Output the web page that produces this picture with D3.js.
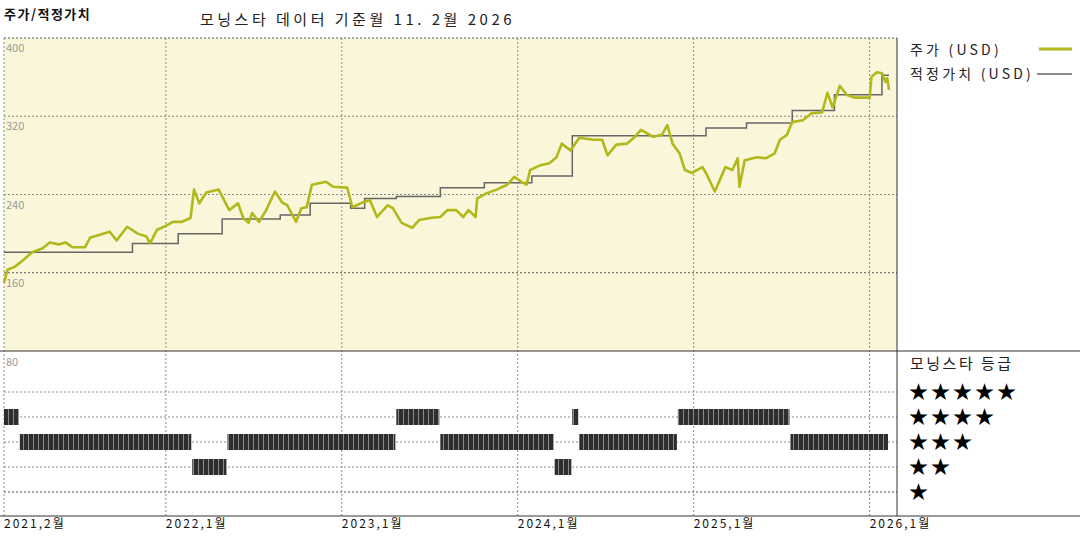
<!DOCTYPE html>
<html><head><meta charset="utf-8">
<script src="https://cdn.jsdelivr.net/npm/d3@7"></script>
<style>body{margin:0;background:#fff}svg{display:block}text{font-family:"Noto Sans CJK KR","Noto Sans",sans-serif}</style>
</head><body><svg id="c" width="1080" height="540"></svg>
<script>
const priceYears=[2021.08,2021.10,2021.14,2021.19,2021.24,2021.30,2021.34,2021.39,2021.43,2021.47,2021.54,2021.57,2021.63,2021.68,2021.72,2021.78,2021.84,2021.89,2021.91,2021.95,2021.99,2022.04,2022.09,2022.14,2022.16,2022.19,2022.23,2022.30,2022.32,2022.36,2022.41,2022.44,2022.47,2022.49,2022.53,2022.57,2022.62,2022.66,2022.69,2022.74,2022.77,2022.80,2022.83,2022.91,2022.95,2023.03,2023.06,2023.12,2023.16,2023.20,2023.26,2023.29,2023.34,2023.40,2023.44,2023.50,2023.56,2023.60,2023.65,2023.69,2023.72,2023.76,2023.77,2023.82,2023.88,2023.94,2023.98,2024.02,2024.05,2024.07,2024.13,2024.18,2024.22,2024.25,2024.30,2024.35,2024.43,2024.48,2024.51,2024.56,2024.62,2024.66,2024.70,2024.77,2024.82,2024.85,2024.88,2024.92,2024.95,2024.99,2025.05,2025.07,2025.12,2025.18,2025.22,2025.25,2025.26,2025.29,2025.36,2025.41,2025.46,2025.49,2025.53,2025.56,2025.62,2025.67,2025.73,2025.76,2025.79,2025.83,2025.87,2025.91,2025.96,2026.00,2026.01,2026.04,2026.07,2026.09,2026.10,2026.11];
const priceValues=[150,163,166,173,181,185,191,189,191,186,186,196,199,202,193,207,200,197,190,204,207,212,212,216,245,231,242,245,238,224,231,216,211,221,212,224,243,232,229,212,226,227,250,253,248,247,227,232,234,217,229,226,211,206,214,216,217,224,224,217,224,217,236,241,245,250,258,253,250,265,270,272,278,292,285,298,296,296,280,291,292,298,306,299,301,311,292,282,265,262,268,262,243,268,265,277,248,275,278,277,282,296,301,314,316,323,324,344,329,351,342,339,339,339,360,365,364,355,359,347];
const fairYears=[2021.08,2021.81,2022.07,2022.32,2022.65,2022.82,2023.05,2023.13,2023.31,2023.56,2023.81,2024.08,2024.31,2025.07,2025.30,2025.56,2025.80,2026.07,2026.11];
const fairValues=[181,190,200,215,219,231,226,236,238,247,252,259,300,308,313,326,342,362,362];
const ratingStart=[2021.08,2021.17,2022.15,2022.35,2023.31,2023.56,2024.21,2024.31,2024.35,2024.91,2025.55];
const ratingEnd=[2021.17,2022.15,2022.35,2023.31,2023.56,2024.21,2024.31,2024.35,2024.91,2025.55,2026.11];
const ratingStars=[4,3,2,3,4,3,2,4,3,4,3];
const yTicks=[400,320,240,160];
const xTickYears=[2021.08,2022,2023,2024,2025,2026];
const xTickLabels=["2021,2월","2022,1월","2023,1월","2024,1월","2025,1월","2026,1월"];
const starLabels=["★★★★★","★★★★","★★★","★★","★"];

const svg=d3.select("#c");
const L=4,R=897,T=38,M=351,B=516;
const x=d3.scaleLinear().domain([2021.08,2026.11]).range([L,889]);
const y=d3.scaleLinear().domain([80,400]).range([M,T]);
const ry=d3.scaleLinear().domain([5,1]).range([392,492]);

svg.append("rect").attr("x",L).attr("y",T).attr("width",R-L).attr("height",M-T).attr("fill","#faf6d9");
const grid="#8a8a8a";
yTicks.forEach(v=>svg.append("line").attr("x1",L).attr("x2",R).attr("y1",y(v)).attr("y2",y(v)).attr("stroke",v===160?"#555":grid).attr("stroke-dasharray","2,2").attr("stroke-width",1));
[5,4,3,2,1].forEach(s=>svg.append("line").attr("x1",L).attr("x2",R).attr("y1",ry(s)).attr("y2",ry(s)).attr("stroke",s===1?"#555":grid).attr("stroke-dasharray","2,2"));
[L].concat(xTickYears.slice(1).map(x)).forEach(px=>svg.append("line").attr("x1",px).attr("x2",px).attr("y1",T).attr("y2",B).attr("stroke",grid).attr("stroke-dasharray","2,2"));
yTicks.forEach(v=>svg.append("text").attr("x",6).attr("y",y(v)+14).attr("font-size",11).attr("fill","#999").text(v));
svg.append("text").attr("x",6).attr("y",M+15).attr("font-size",11).attr("fill","#999").text("80");

const fair=fairYears.map((t,i)=>[t,fairValues[i]]);
svg.append("path").attr("d",d3.line().x(d=>x(d[0])).y(d=>y(d[1])).curve(d3.curveStepAfter)(fair)).attr("fill","none").attr("stroke","#666").attr("stroke-width",1.5);
const price=priceYears.map((t,i)=>[t,priceValues[i]]);
svg.append("path").attr("d",d3.line().x(d=>x(d[0])).y(d=>y(d[1]))(price)).attr("fill","none").attr("stroke","#b2b81c").attr("stroke-width",2.6).attr("stroke-linejoin","round");

const defs=svg.append("defs");
const pat=defs.append("pattern").attr("id","st").attr("patternUnits","userSpaceOnUse").attr("width",5).attr("height",20);
pat.append("rect").attr("width",5).attr("height",20).attr("fill","#2e2e2e");
pat.append("rect").attr("x",3).attr("width",1).attr("height",20).attr("fill","#8a8a8a");
ratingStars.forEach((s,i)=>svg.append("rect").attr("x",x(ratingStart[i])).attr("width",Math.max(2,x(ratingEnd[i])-x(ratingStart[i])-1)).attr("y",ry(s)-8).attr("height",16).attr("fill","url(#st)"));

svg.append("line").attr("x1",0).attr("x2",1080).attr("y1",M).attr("y2",M).attr("stroke","#333");
svg.append("line").attr("x1",0).attr("x2",1080).attr("y1",B).attr("y2",B).attr("stroke","#333");
svg.append("line").attr("x1",R).attr("x2",R).attr("y1",T).attr("y2",B).attr("stroke","#333");
svg.append("line").attr("x1",L).attr("x2",R).attr("y1",T).attr("y2",T).attr("stroke",grid).attr("stroke-dasharray","2,2");

xTickYears.forEach((t,i)=>svg.append("text").attr("x",x(t)).attr("y",528).attr("font-size",12).attr("letter-spacing",2).attr("fill","#111").text(xTickLabels[i]));

svg.append("text").attr("x",4).attr("y",19).attr("font-size",13).attr("font-weight","bold").attr("letter-spacing",1.5).attr("fill","#111").text("주가/적정가치");
svg.append("text").attr("x",200).attr("y",25).attr("font-size",15).attr("letter-spacing",3.5).attr("fill","#222").text("모닝스타 데이터 기준월 11. 2월 2026");

svg.append("text").attr("x",910).attr("y",55).attr("font-size",14).attr("letter-spacing",3.2).attr("fill","#222").text("주가 (USD)");
svg.append("line").attr("x1",1039).attr("x2",1072).attr("y1",49).attr("y2",49).attr("stroke","#b2b81c").attr("stroke-width",3);
svg.append("text").attr("x",910).attr("y",79).attr("font-size",14).attr("letter-spacing",3.2).attr("fill","#222").text("적정가치 (USD)");
svg.append("line").attr("x1",1037).attr("x2",1072).attr("y1",74).attr("y2",74).attr("stroke","#666").attr("stroke-width",1.5);
svg.append("text").attr("x",910).attr("y",369).attr("font-size",15).attr("letter-spacing",2.5).attr("fill","#222").text("모닝스타 등급");
[5,4,3,2,1].forEach((s,i)=>svg.append("text").attr("x",909).attr("y",ry(s)+7).attr("font-size",19).attr("letter-spacing",3).attr("fill","#000").attr("font-family","DejaVu Sans").text(starLabels[i]));
</script></body></html>
